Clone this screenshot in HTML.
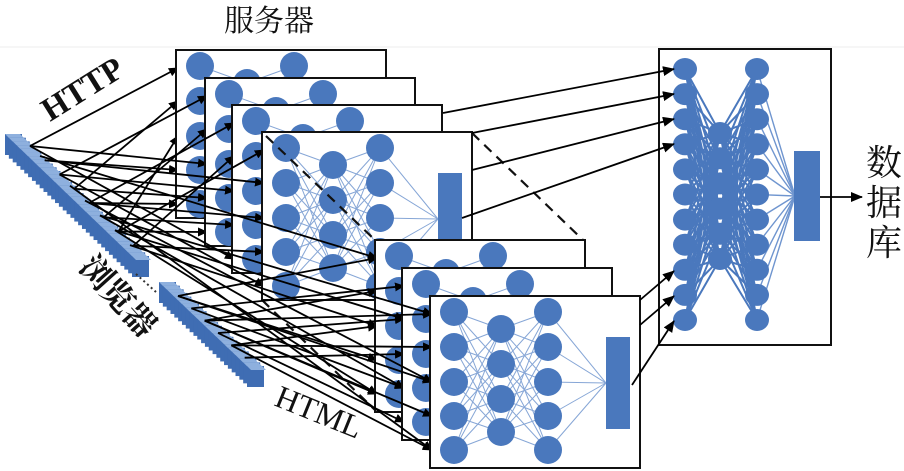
<!DOCTYPE html>
<html><head><meta charset="utf-8"><style>
html,body{margin:0;padding:0;background:#fff;width:904px;height:471px;overflow:hidden}
svg{display:block}
.t{font-family:"Liberation Serif","Noto Serif CJK SC",serif;fill:#111}
.c{font-family:"Liberation Serif","Noto Serif CJK SC",serif;fill:#111}
</style></head><body>
<svg id="s" width="904" height="471" viewBox="0 0 904 471" xmlns="http://www.w3.org/2000/svg">
<defs><marker id="a" markerWidth="10" markerHeight="9" refX="9" refY="4.5" orient="auto" markerUnits="userSpaceOnUse"><path d="M0,0L10,4.5L0,9z" fill="#000"/></marker>
<marker id="b" markerWidth="12" markerHeight="10" refX="11" refY="5" orient="auto" markerUnits="userSpaceOnUse"><path d="M0,0L12,5L0,10z" fill="#000"/></marker></defs>
<line x1="0" y1="47" x2="904" y2="47" stroke="#eee"/>
<g id="g"></g>
<text class="c" x="224" y="31" font-size="30">服务器</text>
<text class="t" font-size="33" font-weight="bold" transform="translate(50,122) rotate(-32)">HTTP</text>
<text class="t" font-size="32" transform="translate(273,405) rotate(22)">HTML</text>
<text class="c" font-size="32" font-weight="bold" transform="translate(78,268) rotate(48)">浏览器</text>
<text class="c" font-size="36" x="866" y="175">数</text>
<text class="c" font-size="36" x="866" y="215">据</text>
<text class="c" font-size="36" x="866" y="255">库</text>
</svg>
<script>
var g=document.getElementById('g'),h='';
function L(x1,y1,x2,y2,s,w,m,d){h+='<line x1="'+x1+'" y1="'+y1+'" x2="'+x2+'" y2="'+y2+'" stroke="'+s+'" stroke-width="'+w+'"'+(m?' marker-end="url(#'+m+')"':'')+(d?' stroke-dasharray="'+d+'"':'')+'/>';}
function C(x,y,rx,ry){h+='<ellipse cx="'+x+'" cy="'+y+'" rx="'+rx+'" ry="'+ry+'" fill="#4a78bd"/>';}
var B='#4a78bd',LB='#86a6d6';
function cubes(x0,y0,x1,y1,n){for(var k=0;k<n;k++){var x=x0+(x1-x0)*k/(n-1),y=y0+(y1-y0)*k/(n-1);
h+='<rect x="'+(x-9)+'" y="'+(y-8)+'" width="17" height="21" fill="#3f6db3"/>';
h+='<polygon points="'+(x-9)+','+(y-8)+' '+(x+6)+','+(y-8)+' '+(x+10)+','+(y-4)+' '+(x-5)+','+(y-4)+'" fill="#8eb0de"/>';}}
function panel(px,py,w,hh){h+='<rect x="'+px+'" y="'+py+'" width="'+w+'" height="'+hh+'" fill="#fff" stroke="#111" stroke-width="2"/>';
var c1=[16,51,86,120,154],c2=[33,68,103,136],bx=px+176,by=py+41,bh=92;
c1.forEach(function(a){c2.forEach(function(b){L(px+24,py+a,px+71,py+b,LB,1);L(px+71,py+b,px+118,py+a,LB,1);});L(px+118,py+a,bx,by+bh/2,LB,1);});
c1.forEach(function(a){C(px+24,py+a,14,14);C(px+118,py+a,14,14);});c2.forEach(function(b){C(px+71,py+b,14,14);});
h+='<rect x="'+bx+'" y="'+by+'" width="24" height="'+bh+'" fill="'+B+'"/>';}
cubes(14,142,141,264,34);cubes(168,290,256,374,24);
h+='<line x1="136" y1="274" x2="156" y2="292" stroke="#333" stroke-width="2" stroke-dasharray="2,3"/>';
var up=[[176,50],[205,78],[232,105],[262,132]],lo=[[375,240],[402,268],[430,296]];
var ny=[18,51,86,120,154];
up.forEach(function(p,pi){
 ny.forEach(function(a,i){var t=((i*3+pi*2)%8)/8;L(30+118*t,146+114*t,p[0]+2,p[1]+a,'#000',1.8,'a');});
 panel(p[0],p[1],210,168);});
L(266,136,375,240,'#111',2.2,null,'10,7');L(472,133,583,240,'#111',2.2,null,'10,7');L(262,300,375,410,'#111',2.2,null,'10,7');
lo.forEach(function(p,pi){
 ny.forEach(function(a,i){var t=((i*3+pi*2)%7)/7;if((i+pi)%2==0)L(40+105*t,156+104*t,p[0]+2,p[1]+a,'#000',1.8,'a');
   var u=((i*2+pi)%6)/6;L(178+80*u,296+74*u,p[0]+2,p[1]+a,'#000',1.8,'a');});
 panel(p[0],p[1],210,172);});
h+='<rect x="659" y="49" width="172" height="296" fill="#fff" stroke="#111" stroke-width="2"/>';
var r1=[],r2=[];for(var i=0;i<11;i++)r1.push(69+25.1*i);for(i=0;i<6;i++)r2.push(133+25.2*i);
r1.forEach(function(a){r2.forEach(function(b){L(685,a,720,b,B,2);L(720,b,757,a,B,2);});L(757,a,795,196,'#6f95cf',1.4);});
r1.forEach(function(a){C(685,a,12,11);C(757,a,12,11);});r2.forEach(function(b){C(720,b,12,11);});
h+='<rect x="794" y="151" width="26" height="90" fill="'+B+'"/>';
L(820,197,862,197,'#000',1.8,'b');
[[443,113,69],[472,133,94],[472,170,119],[462,218,144],[640,300,271],[640,325,296],[632,385,321]].forEach(function(q){L(q[0],q[1],674,q[2],'#000',1.8,'b');});
g.innerHTML=h;
</script>
</body></html>
